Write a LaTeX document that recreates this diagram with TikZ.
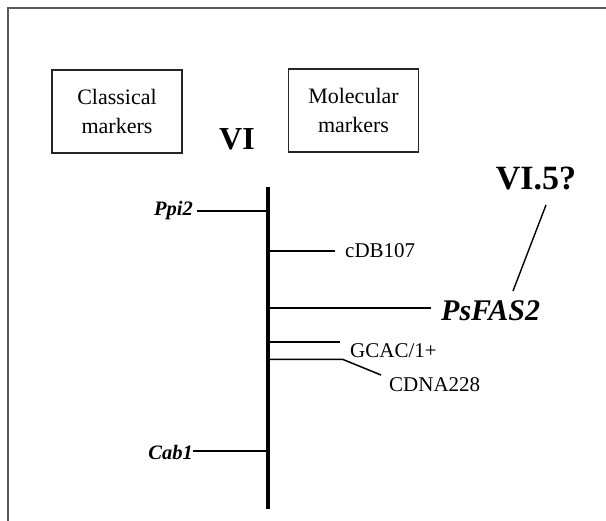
\documentclass[tikz,border=0pt]{standalone}
\usepackage{fontspec}
\setmainfont{Liberation Serif}
\begin{document}
\begin{tikzpicture}[x=1pt,y=-1pt,
  framebox/.style={draw, line width=1.5pt, draw=black!85, minimum width=130pt, minimum height=83pt,
    align=center, inner sep=0pt, font=\fontsize{22}{29}\selectfont},
  lbl/.style={inner sep=0pt, font=\fontsize{21}{25}\selectfont},
  clbl/.style={inner sep=0pt, font=\fontsize{20.5}{24}\selectfont\bfseries\itshape},
  tickline/.style={line width=1.5pt},
  axisline/.style={line width=3.2pt}]
\useasboundingbox (0,0) rectangle (606,521);
\draw[line width=2pt, black!65] (610,8) -- (8,8) -- (8,525);

\node[framebox] (classical) at (117,111.5) {Classical\\markers};
\node[framebox] (molecular) at (353.5,110.5) {Molecular\\markers};

\node[inner sep=0pt, anchor=base, font=\fontsize{32}{35}\selectfont\bfseries] (vi) at (237,150) {VI};
\node[inner sep=0pt, anchor=base, font=\fontsize{34}{38}\selectfont\bfseries] (vifive) at (536,190) {VI.5?};

\coordinate (atop) at (268,187);
\coordinate (abot) at (268,509);
\draw[axisline] (atop) -- (abot);

% classical markers
\node[clbl, anchor=base east] (ppi) at (193,216) {Ppi2};
\coordinate (tppi) at (268,211);
\draw[tickline] (ppi.east |- tppi) ++(4,0) -- (tppi);

\node[clbl, anchor=base east] (cab) at (193,460) {Cab1};
\coordinate (tcab) at (268,451);
\draw[tickline] (cab.east |- tcab) -- (tcab);

% molecular markers
\node[lbl, anchor=base west] (cdb) at (345,258) {cDB107};
\coordinate (tcdb) at (268,251);
\coordinate (ecdb) at (335,251);
\draw[tickline] (tcdb) -- (ecdb);

\node[inner sep=0pt, anchor=base west, font=\fontsize{30}{34}\selectfont\bfseries\itshape] (fas) at (441,321) {PsFAS2};
\coordinate (tfas) at (268,308);
\coordinate (efas) at (431,308);
\draw[tickline] (tfas) -- (efas);

\node[lbl, anchor=base west] (gcac) at (350,358) {GCAC/1+};
\coordinate (tgcac) at (268,342);
\coordinate (egcac) at (340,342);
\draw[tickline] (tgcac) -- (egcac);

\node[lbl, anchor=base west] (cdna) at (389,392) {CDNA228};
\coordinate (tcdna) at (268,359.5);
\coordinate (kcdna) at (343,359.5);
\coordinate (ecdna) at (381,375);
\draw[tickline] (tcdna) -- (kcdna) -- (ecdna);

% VI.5? pointer
\coordinate (vstart) at (546,205);
\coordinate (vend) at (513,291);
\draw[line width=1.4pt] (vstart) -- (vend);
\end{tikzpicture}
\end{document}
